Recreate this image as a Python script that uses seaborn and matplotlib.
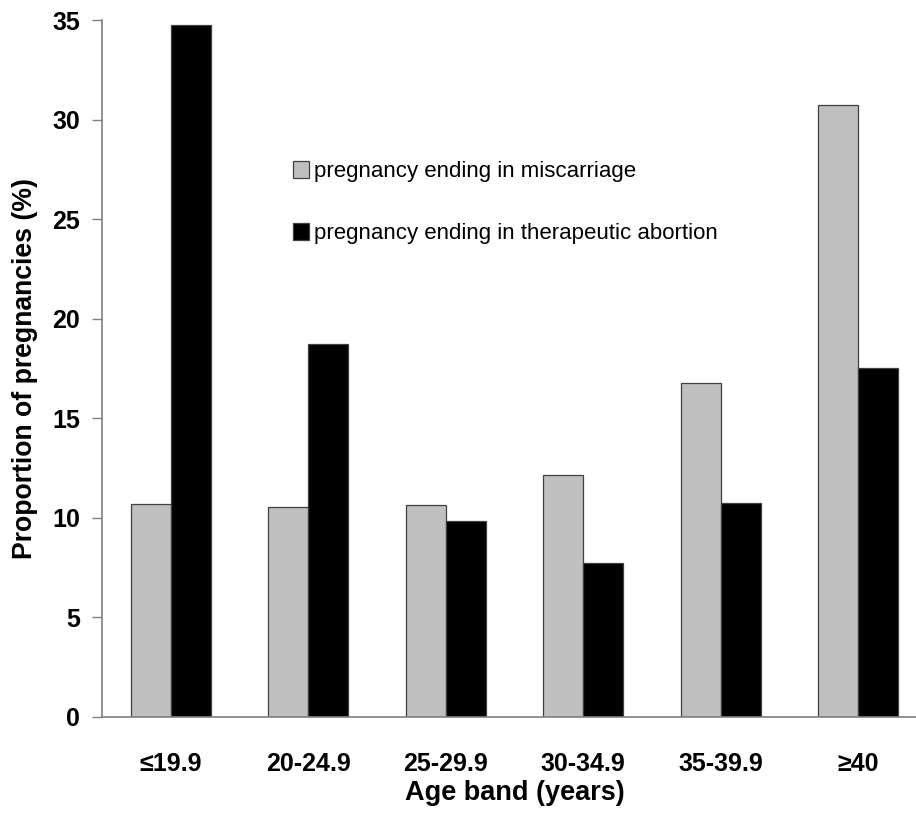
import pandas as pd
import matplotlib
matplotlib.use("Agg")
import matplotlib.pyplot as plt
import seaborn as sns
import numpy as np

# Data
age_bands = ["≤19.9", "20-24.9", "25-29.9", "30-34.9", "35-39.9", "≥40"]
miscarriage = [10.7, 10.57, 10.64, 12.15, 16.75, 30.75]
abortion = [34.75, 18.75, 9.84, 7.75, 10.77, 17.55]
series_names = ["pregnancy ending in miscarriage",
                "pregnancy ending in therapeutic abortion"]
y_ticks = [0, 5, 10, 15, 20, 25, 30, 35]

df = pd.DataFrame({
    "age": age_bands * 2,
    "value": miscarriage + abortion,
    "series": [series_names[0]] * len(age_bands) + [series_names[1]] * len(age_bands),
})

sns.set_theme(style="white")
plt.rcParams["font.family"] = ["Liberation Sans", "DejaVu Sans"]
plt.rcParams.update({"text.color": "black", "axes.labelcolor": "black"})

fig = plt.figure(figsize=(9.16, 8.18), dpi=100)
ax = fig.add_axes([102 / 916, 101 / 818, 825 / 916, 697 / 818])

sns.barplot(data=df, x="age", y="value", hue="series", order=age_bands,
            hue_order=series_names, palette=["#C0C0C0", "#000000"],
            width=0.58, gap=0, edgecolor="#404040", linewidth=0.9,
            saturation=1, ax=ax)

ax.set_xlim(-0.5, 5.5)
ax.set_ylim(0, 35)
ax.set_yticks(y_ticks)
ax.set_yticklabels([str(t) for t in y_ticks], fontsize=18, fontweight="bold")
ax.set_xticks(np.arange(len(age_bands)))
ax.set_xticklabels(age_bands, fontsize=18, fontweight="bold")
ax.set_xticks(np.arange(len(age_bands) + 1) - 0.5, minor=True)
ax.tick_params(axis="x", which="major", length=0, pad=25, labelcolor="black")
ax.tick_params(axis="x", which="minor", length=8, width=1, color="#808080", direction="out")
ax.tick_params(axis="y", length=7, width=1, color="#808080", direction="out",
               pad=9, left=True, labelcolor="black")

ax.set_xlabel("Age band (years)", fontsize=19.5, fontweight="bold", labelpad=3)
ax.set_ylabel("Proportion of pregnancies (%)", fontsize=19.2, fontweight="bold", labelpad=10)

for side in ["top", "right"]:
    ax.spines[side].set_visible(False)
for side in ["left", "bottom"]:
    ax.spines[side].set_color("#808080")
    ax.spines[side].set_linewidth(1.2)

ax.legend(loc="upper left", bbox_to_anchor=(0.207, 0.826), frameon=False,
          fontsize=16, handlelength=0.75, handleheight=0.75,
          handletextpad=0.2, labelspacing=1.84)

plt.savefig("out.png", dpi=100)
plt.close()
